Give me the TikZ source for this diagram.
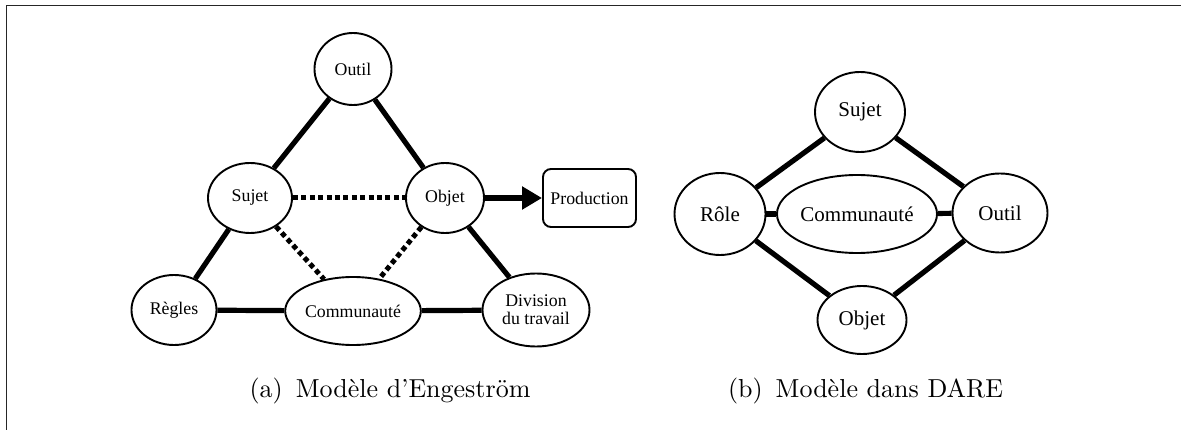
\documentclass[tikz,border=0pt]{standalone}
\usepackage{fontspec}
\newfontfamily\nodefont{Liberation Serif}
\newfontfamily\capfont[Extension=.otf, Ligatures=TeX]{lmroman10-regular}
\usetikzlibrary{shapes.geometric,arrows.meta}
\tikzset{
  elnode/.style={ellipse, draw, line width=1.9pt, inner sep=0pt, align=center},
  smallfont/.style={font=\nodefont\fontsize{17.8}{20}\selectfont},
  bigfont/.style={font=\nodefont\fontsize{21}{24}\selectfont},
  solidlink/.style={line width=5.2pt},
  dotlink/.style={line width=5pt, dash pattern=on 5pt off 3.4pt},
  caption/.style={font=\capfont\fontsize{26}{31}\selectfont, anchor=base}
}
\begin{document}
\begin{tikzpicture}[x=1pt,y=-1pt]
\useasboundingbox (0,0) rectangle (1181,430);
% cropped frame: top and left edges
\draw[line width=1.6pt, draw=black!85] (6.5,430) -- (6.5,5.5) -- (1181,5.5);

% (a) Engestrom's activity triangle
\node[elnode, smallfont, minimum width=77pt, minimum height=72pt] (outil) at (353,69) {Outil};
\node[elnode, smallfont, minimum width=84pt, minimum height=70pt] (sujet) at (250,198) {Sujet};
\node[elnode, smallfont, minimum width=78pt, minimum height=70pt] (objet) at (445,198) {Objet};
\node[draw, smallfont, line width=1.9pt, rounded corners=8pt, minimum width=93pt, minimum height=58pt, inner sep=0pt] (prod) at (589.5,198) {Production};
\node[elnode, smallfont, minimum width=85pt, minimum height=70pt] (regles) at (174,310) {Règles};
\node[elnode, smallfont, minimum width=107pt, minimum height=68pt] (comm) at (353,311) {Communauté};
\node[elnode, smallfont, minimum width=107pt, minimum height=73pt, text depth=0pt] (div) at (536,310) {Division\\[-2pt]du travail};

\draw[solidlink] (outil) -- (sujet);
\draw[solidlink] (outil) -- (objet);
\draw[solidlink] (sujet) -- (regles);
\draw[solidlink] (objet) -- (div);
\draw[solidlink] (regles) -- (comm);
\draw[solidlink] (comm) -- (div);
\draw[dotlink] (sujet) -- (objet);
\draw[dotlink] (sujet) -- (comm);
\draw[dotlink] (objet) -- (comm);
\draw[solidlink, -{Triangle[length=20pt, width=22pt]}] (objet) -- (prod);

% (b) model used in DARE
\node[elnode, bigfont, minimum width=90pt, minimum height=80pt] (bsujet) at (860,112) {Sujet};
\node[elnode, bigfont, minimum width=91pt, minimum height=82pt] (brole) at (720,214) {Rôle};
\node[elnode, bigfont, minimum width=129pt, minimum height=78pt] (bcomm) at (857,214) {Communauté};
\node[elnode, bigfont, minimum width=95pt, minimum height=79pt] (boutil) at (1000,213) {Outil};
\node[elnode, bigfont, minimum width=89pt, minimum height=68pt] (bobjet) at (862,320) {Objet};

\draw[solidlink] (brole) -- (bsujet);
\draw[solidlink] (bsujet) -- (boutil);
\draw[solidlink] (brole) -- (bobjet);
\draw[solidlink] (bobjet) -- (boutil);
\draw[solidlink] (brole) -- (bcomm);
\draw[solidlink] (bcomm) -- (boutil);

% sub-captions
\node[caption] (capa) at (390,397) {(a)\hspace{0.5em}Modèle d'Engeström};
\node[caption] (capb) at (865.5,397) {(b)\hspace{0.5em}Modèle dans DARE};
\end{tikzpicture}
\end{document}
